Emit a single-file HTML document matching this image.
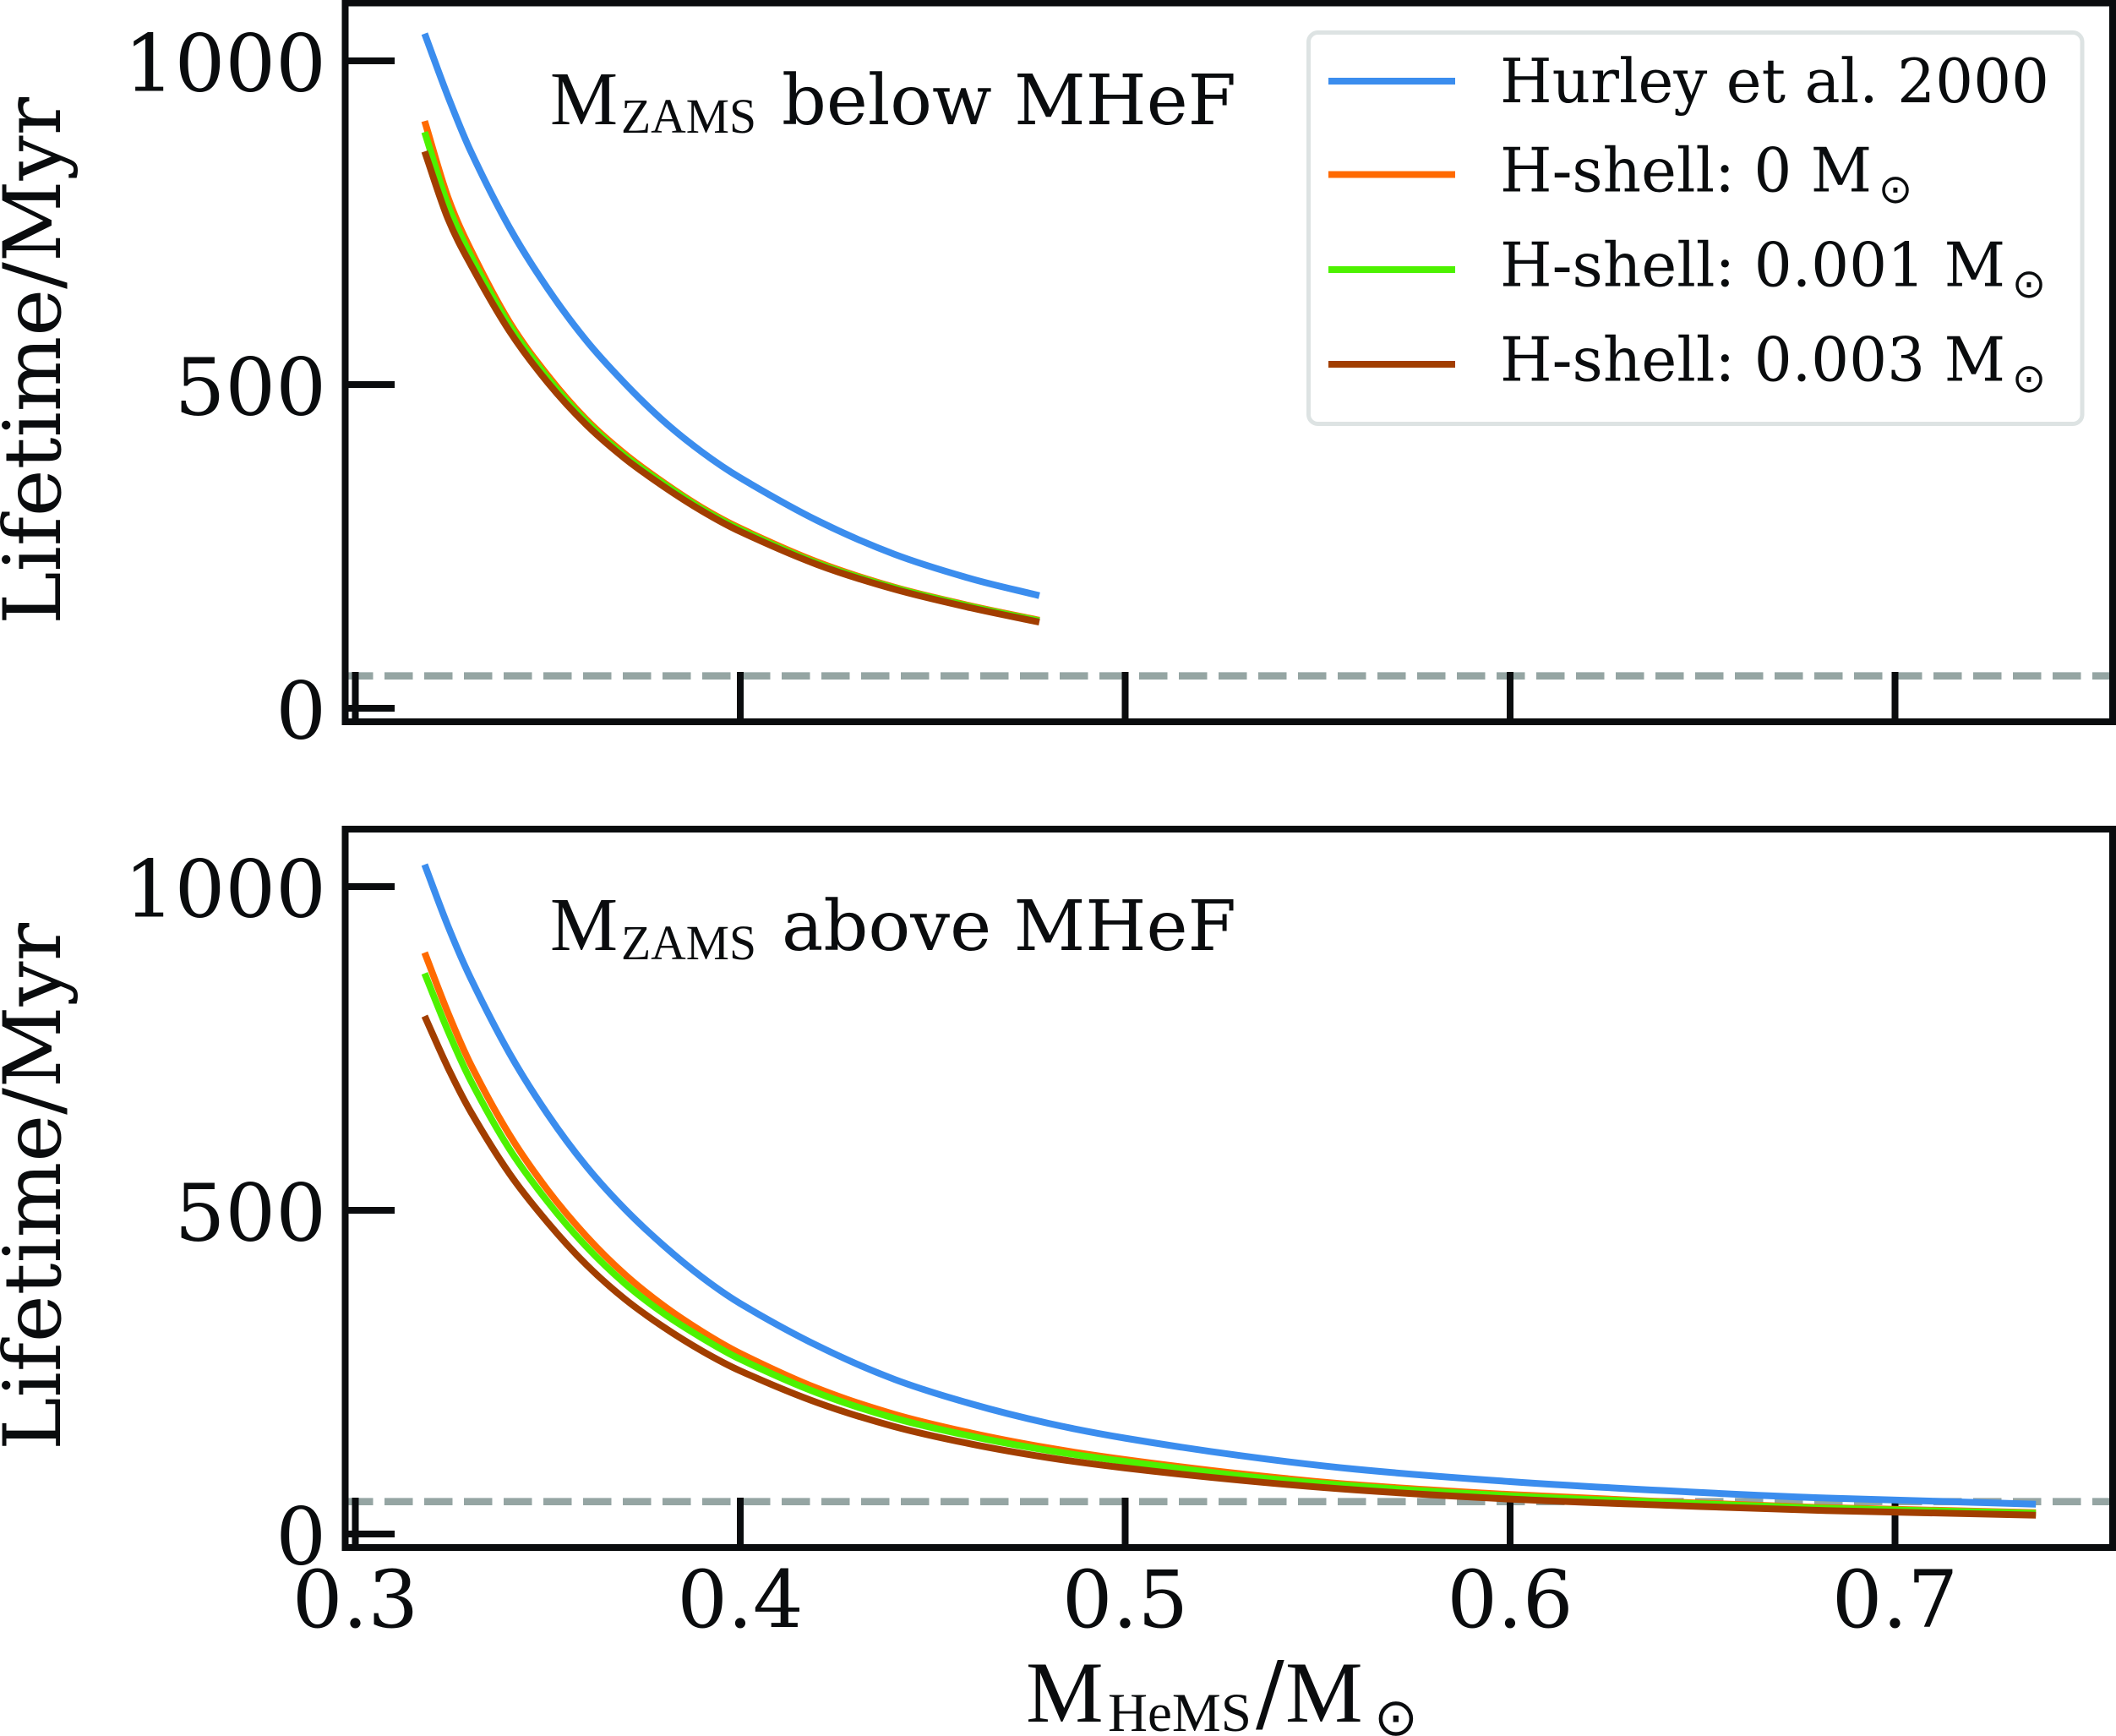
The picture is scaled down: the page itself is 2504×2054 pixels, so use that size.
<!DOCTYPE html>
<html lang="en">
<head>
<meta charset="utf-8">
<title>Lifetime vs HeMS mass</title>
<style>
html,body{margin:0;padding:0;background:#fff;}
svg{display:block;}
text{fill:#0a0c0e;}
.tick{font-family:"DejaVu Serif","Liberation Serif",serif;font-size:94px;}
.ann{font-family:"DejaVu Serif","Liberation Serif",serif;font-size:82px;}
.tms{font-family:"Liberation Serif",serif;}
.leg{font-family:"DejaVu Serif","Liberation Serif",serif;font-size:72px;}
.sun{font-family:"DejaVu Sans",sans-serif;}
</style>
</head>
<body>
<svg id="chart" xmlns="http://www.w3.org/2000/svg" width="2504" height="2054" viewBox="0 0 2504 2054">
  <rect width="2504" height="2054" fill="#ffffff"/>
  <g id="top-plot"></g>
  <g id="bottom-plot"></g>

  <text class="tick" transform="translate(71,739) rotate(-90)" textLength="624" lengthAdjust="spacingAndGlyphs">Lifetime/Myr</text>
  <text class="tick" transform="translate(71,1716) rotate(-90)" textLength="624" lengthAdjust="spacingAndGlyphs">Lifetime/Myr</text>

  <g>
    <text class="tms" x="651" y="147" font-size="90">M</text>
    <text class="tms" x="735" y="157" font-size="58" textLength="160" lengthAdjust="spacingAndGlyphs">ZAMS</text>
    <text class="ann" x="925" y="147" textLength="538" lengthAdjust="spacingAndGlyphs">below MHeF</text>
  </g>
  <g>
    <text class="tms" x="651" y="1124" font-size="90">M</text>
    <text class="tms" x="735" y="1135" font-size="58" textLength="160" lengthAdjust="spacingAndGlyphs">ZAMS</text>
    <text class="ann" x="925" y="1124" textLength="538" lengthAdjust="spacingAndGlyphs">above MHeF</text>
  </g>

  <g>
    <text class="tms" x="1214" y="2037" font-size="103">M</text>
    <text class="tms" x="1311" y="2048" font-size="65" textLength="170" lengthAdjust="spacingAndGlyphs">HeMS</text>
    <text class="ann" x="1486" y="2037" style="font-size:100px">/</text>
    <text class="tms" x="1521" y="2037" font-size="103">M</text>
    <text class="sun" x="1652" y="2053" font-size="62" text-anchor="middle">⊙</text>
  </g>

  <g>
    <rect x="1548.5" y="38.5" width="915.5" height="463" rx="11" fill="#ffffff" fill-opacity="0.9" stroke="#dde3e3" stroke-width="5"/>
    <g>
      <line x1="1572" x2="1722" y1="96" y2="96" stroke="#3b8dee" stroke-width="8"/>
      <text class="leg" x="1775" y="121" textLength="650" lengthAdjust="spacingAndGlyphs">Hurley et al. 2000</text>
    </g>
    <g>
      <line x1="1572" x2="1722" y1="206.5" y2="206.5" stroke="#ff6a00" stroke-width="8"/>
      <text class="leg" x="1775" y="226.5" textLength="440" lengthAdjust="spacingAndGlyphs">H-shell: 0 M</text>
      <text class="sun" x="2243" y="240" font-size="48" text-anchor="middle">⊙</text>
    </g>
    <g>
      <line x1="1572" x2="1722" y1="319" y2="319" stroke="#4df200" stroke-width="8"/>
      <text class="leg" x="1775" y="338.5" textLength="598" lengthAdjust="spacingAndGlyphs">H-shell: 0.001 M</text>
      <text class="sun" x="2401" y="352" font-size="48" text-anchor="middle">⊙</text>
    </g>
    <g>
      <line x1="1572" x2="1722" y1="431" y2="431" stroke="#a23e00" stroke-width="8"/>
      <text class="leg" x="1775" y="450.5" textLength="598" lengthAdjust="spacingAndGlyphs">H-shell: 0.003 M</text>
      <text class="sun" x="2401" y="464" font-size="48" text-anchor="middle">⊙</text>
    </g>
  </g>
</svg>
<script>
// Chart data
const xTickValues = [0.3, 0.4, 0.5, 0.6, 0.7];
const xTickLabels = ["0.3", "0.4", "0.5", "0.6", "0.7"];
const yTickValues = [0, 500, 1000];
const yTickLabels = ["0", "500", "1000"];
const referenceLifetime = 50;

const seriesNames = ["hurley-2000", "h-shell-0", "h-shell-0001", "h-shell-0003"];
const seriesColors = ["#3b8dee", "#ff6a00", "#4df200", "#a23e00"];

const topMass = [0.318, 0.324, 0.33, 0.34, 0.35, 0.36, 0.37, 0.38, 0.39, 0.4, 0.42, 0.44, 0.46, 0.4777];
const topHurley = [1042, 946, 860, 743, 648, 568, 502, 444, 396, 356, 290, 238, 200, 174];
const topShell0 = [907, 790, 708, 597, 514, 446, 393, 349, 310, 278, 226, 187, 158, 136];
const topShell0001 = [890, 778, 699, 592, 510, 443, 390, 347, 308, 276, 224, 186, 157, 135];
const topShell0003 = [860, 757, 685, 583, 503, 438, 386, 343, 305, 273, 222, 184, 155, 133];

const bottomMass = [0.318, 0.324, 0.33, 0.34, 0.35, 0.36, 0.37, 0.38, 0.39, 0.4, 0.42, 0.44, 0.46, 0.48, 0.5, 0.53, 0.56, 0.6, 0.64, 0.68, 0.7366];
const bottomHurley = [1034, 940, 858, 743, 648, 568, 502, 446, 397, 356, 291, 239, 201, 171, 148, 121, 100, 81, 67, 56, 46];
const bottomShell0 = [898, 806, 725, 617, 531, 460, 401, 353, 313, 279, 225, 185, 156, 133, 115, 93, 76, 61, 50, 41, 33];
const bottomShell0001 = [866, 778, 700, 595, 513, 444, 387, 341, 303, 270, 218, 179, 151, 129, 112, 90, 74, 59, 49, 40, 32];
const bottomShell0003 = [800, 721, 652, 557, 481, 416, 363, 320, 283, 252, 203, 166, 139, 118, 102, 83, 68, 54, 44.5, 36.5, 29];

const SVG_NS = "http://www.w3.org/2000/svg";
const INK = "#0a0c0e";

function xScale(mass) {
  return 420.5 + (mass - 0.3) * 4555;
}

function makeYScale(zeroPixel) {
  return function (value) {
    return zeroPixel - value * 0.766;
  };
}

function make(tag, attrs, parent) {
  const el = document.createElementNS(SVG_NS, tag);
  for (const key in attrs) {
    el.setAttribute(key, attrs[key]);
  }
  parent.appendChild(el);
  return el;
}

// Cubic Hermite through the points, tangents respect uneven x spacing
function smoothPath(points) {
  const n = points.length;
  const slopes = [];
  for (let i = 0; i < n; i++) {
    const a = points[Math.max(i - 1, 0)];
    const b = points[Math.min(i + 1, n - 1)];
    slopes.push((b[1] - a[1]) / (b[0] - a[0]));
  }
  let d = "M" + points[0][0].toFixed(2) + " " + points[0][1].toFixed(2);
  for (let i = 0; i < n - 1; i++) {
    const p = points[i];
    const q = points[i + 1];
    const h = (q[0] - p[0]) / 3;
    d += "C" + (p[0] + h).toFixed(2) + " " + (p[1] + h * slopes[i]).toFixed(2) + " " +
      (q[0] - h).toFixed(2) + " " + (q[1] - h * slopes[i + 1]).toFixed(2) + " " +
      q[0].toFixed(2) + " " + q[1].toFixed(2);
  }
  return d;
}

function drawPanel(group, prefix, panelTop, panelBottom, zeroPixel, masses, seriesList, showXLabels) {
  const yScale = makeYScale(zeroPixel);

  const refY = yScale(referenceLifetime);
  const refLine = make("line", { x1: 408, x2: 2500, y1: refY, y2: refY, stroke: "#95a5a3", "stroke-width": 8.6, "stroke-dasharray": "33.5 13.5" }, group);
  
  

  xTickValues.forEach(function (tick, i) {
    const tickX = xScale(tick);
    const tickLine = make("line", { x1: tickX, x2: tickX, y1: panelBottom, y2: panelBottom - 59, stroke: INK, "stroke-width": 8 }, group);
    
    
    if (showXLabels) {
      const label = make("text", { x: tickX, y: 1925, class: "tick", "text-anchor": "middle" }, group);
      label.textContent = xTickLabels[i];
      
      
    }
  });

  yTickValues.forEach(function (tick, i) {
    const tickY = yScale(tick);
    const tickLine = make("line", { x1: 408, x2: 467, y1: tickY, y2: tickY, stroke: INK, "stroke-width": 8 }, group);
    
    
    const label = make("text", { x: 386, y: tickY + 35.5, class: "tick", "text-anchor": "end" }, group);
    label.textContent = yTickLabels[i];
    
    
  });

  seriesList.forEach(function (values, s) {
    const points = values.map(function (value, i) {
      return [xScale(masses[i]), yScale(value)];
    });
    const curve = make("path", { d: smoothPath(points), fill: "none", stroke: seriesColors[s], "stroke-width": 8, "stroke-linecap": "butt", "stroke-linejoin": "round" }, group);
    
    
  });

  const frame = make("rect", { x: 408.5, y: panelTop, width: 2091.5, height: panelBottom - panelTop, fill: "none", stroke: INK, "stroke-width": 8 }, group);
  
  
}

drawPanel(document.getElementById("top-plot"), "top", 3.5, 854, 838, topMass,
  [topHurley, topShell0, topShell0001, topShell0003], false);
drawPanel(document.getElementById("bottom-plot"), "bottom", 981, 1831, 1815, bottomMass,
  [bottomHurley, bottomShell0, bottomShell0001, bottomShell0003], true);
</script>
</body>
</html>
